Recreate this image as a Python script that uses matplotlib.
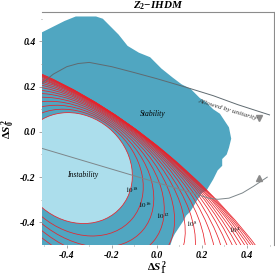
import matplotlib
matplotlib.use("Agg")
import matplotlib.pyplot as plt
from matplotlib.patches import Ellipse

plt.rcParams['mathtext.fontset'] = 'custom'
plt.rcParams['mathtext.rm'] = 'Liberation Serif:bold'
plt.rcParams['mathtext.it'] = 'Liberation Serif:italic:bold'
plt.rcParams['mathtext.bf'] = 'Liberation Serif:bold'

# stability region outline (ΔS1², ΔS0²)
stab_x = [-0.51, -0.47, -0.41, -0.36, -0.27, -0.24, -0.21, -0.17, -0.13, -0.08, -0.03, 0.02,
          0.07, 0.11, 0.15, 0.19, 0.22, 0.25, 0.28, 0.30, 0.32, 0.33, 0.32, 0.31, 0.29,
          0.29, 0.27, 0.25, 0.22, 0.20, 0.18, 0.15, 0.13, 0.12, 0.10, 0.08, 0.07, 0.06, -0.51]
stab_y = [0.44, 0.46, 0.49, 0.51, 0.51, 0.50, 0.47, 0.43, 0.38, 0.35, 0.33, 0.28,
          0.24, 0.21, 0.19, 0.15, 0.13, 0.10, 0.08, 0.05, 0.02, -0.03, -0.07, -0.10, -0.12,
          -0.15, -0.17, -0.21, -0.26, -0.27, -0.30, -0.35, -0.37, -0.39, -0.42, -0.45, -0.47, -0.50, -0.50]

# contour ellipses of the stability scale (first one = instability border)
ring_cx = [-0.360, -0.352, -0.345, -0.338, -0.332, -0.326, -0.321, -0.316, -0.311, -0.307,
           -0.303, -0.300, -0.297, -0.294, -0.291, -0.289, -0.286, -0.284, -0.282]
ring_cy = [-0.160, -0.180, -0.196, -0.212, -0.228, -0.246, -0.264, -0.282, -0.301, -0.320,
           -0.339, -0.359, -0.380, -0.400, -0.422, -0.443, -0.465, -0.486, -0.508]
ring_a = [0.265, 0.317, 0.370, 0.422, 0.474, 0.527, 0.579, 0.631, 0.684, 0.736,
          0.788, 0.841, 0.893, 0.945, 0.998, 1.050, 1.102, 1.155, 1.207]
ring_b = [0.230, 0.251, 0.267, 0.283, 0.299, 0.316, 0.332, 0.348, 0.364, 0.380,
          0.396, 0.412, 0.428, 0.444, 0.461, 0.477, 0.493, 0.509, 0.525]
ring_angle = -40

# unitarity bounds
uni1_x = [-0.51, -0.46, -0.40, -0.35, -0.30, -0.20, -0.10, 0.0, 0.13, 0.25, 0.36, 0.50]
uni1_y = [0.215, 0.255, 0.288, 0.302, 0.307, 0.288, 0.262, 0.235, 0.197, 0.16, 0.12, 0.075]
uni2_x = [-0.51, 0.0, 0.19, 0.23, 0.27, 0.32, 0.38, 0.43, 0.49]
uni2_y = [-0.073, -0.224, -0.28, -0.293, -0.298, -0.293, -0.27, -0.24, -0.20]

scale_labels = ['$10^{18}$', '$10^{16}$', '$10^{12}$', '$10^{8}$', '$10^{4}$']
scale_x = [-0.11, -0.053, 0.027, 0.155, 0.347]
scale_y = [-0.255, -0.325, -0.37, -0.41, -0.436]

fig = plt.figure(figsize=(2.75, 2.78), dpi=100)
ax = fig.add_axes([0.1527, 0.1187, 0.8437, 0.8383])

ax.fill(stab_x, stab_y, color='#50a6c1', lw=0, zorder=1)

ax.add_patch(Ellipse((ring_cx[0], ring_cy[0]), 2 * ring_a[0], 2 * ring_b[0], angle=ring_angle,
                     facecolor='#acdeec', edgecolor='none', zorder=2))
for cx, cy, a, b in zip(ring_cx, ring_cy, ring_a, ring_b):
    ax.add_patch(Ellipse((cx, cy), 2 * a, 2 * b, angle=ring_angle, fill=False,
                         edgecolor='#e8232b', lw=0.55, zorder=3))

ax.plot(uni1_x, uni1_y, color='#5f6a70', lw=0.7, zorder=4)
ax.plot(uni2_x, uni2_y, color='#7d868a', lw=0.7, zorder=4)
ax.plot([0.452], [0.062], marker='v', ms=4.5, color='#8a8a8a', zorder=5)
ax.plot([0.452], [-0.205], marker='^', ms=4.5, color='#8a8a8a', zorder=5)

serif = 'Liberation Serif'
ax.text(0.315, 0.10, 'Allowed by unitarity', fontsize=5.4, fontfamily=serif, style='italic',
        rotation=-17, ha='center', va='center', color='#333333', zorder=6)
ax.text(-0.02, 0.077, 'Stability', fontsize=5.5, fontfamily=serif, style='italic',
        ha='center', va='center', zorder=6)
ax.text(-0.33, -0.19, 'Instability', fontsize=5.5, fontfamily=serif, style='italic',
        ha='center', va='center', zorder=6)
for lab, x, y in zip(scale_labels, scale_x, scale_y):
    ax.text(x, y, lab, fontsize=5, math_fontfamily='stix', ha='center', va='center', zorder=6)

ax.set_xlim(-0.51, 0.52)
ax.set_ylim(-0.50, 0.53)
ax.set_xticks([-0.4, -0.2, 0.0, 0.2, 0.4])
ax.set_yticks([-0.4, -0.2, 0.0, 0.2, 0.4])
ax.set_xticks([-0.5, -0.3, -0.1, 0.1, 0.3, 0.5], minor=True)
ax.set_yticks([-0.3, -0.1, 0.1, 0.3, 0.5], minor=True)
ax.xaxis.set_major_formatter(matplotlib.ticker.FormatStrFormatter('%.1f'))
ax.yaxis.set_major_formatter(matplotlib.ticker.FormatStrFormatter('%.1f'))
for lab in ax.get_xticklabels() + ax.get_yticklabels():
    lab.set_fontfamily(serif)
    lab.set_fontweight('bold')
    lab.set_fontstyle('italic')
    lab.set_fontsize(7)
ax.tick_params(which='both', direction='out', color='#999999', width=0.6, pad=2.5)
ax.tick_params(which='major', length=2)
ax.tick_params(which='minor', length=1)

for side in ['left', 'bottom']:
    ax.spines[side].set_visible(False)
for side in ['top', 'right']:
    ax.spines[side].set_color('#8c8c8c')
    ax.spines[side].set_linewidth(0.8)

fig.text(0.571, 0.035, r'$\Delta S_1^{\,2}$', fontsize=8, ha='center', va='center')
ax.set_ylabel(r'$\Delta S_0^{\,2}$', fontsize=8, labelpad=2)
ax.set_title(r'$Z_2{-}IHDM$', fontsize=8, pad=2)

fig.savefig('out.png', dpi=100)
